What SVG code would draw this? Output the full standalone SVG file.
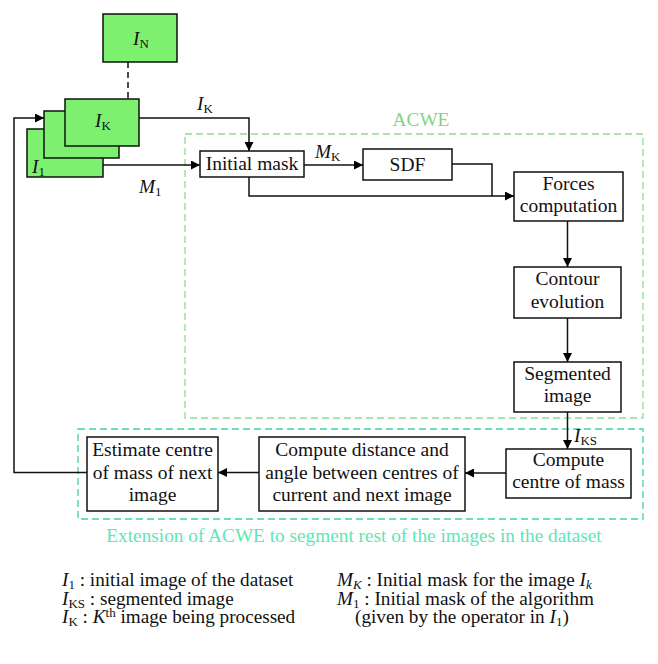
<svg xmlns="http://www.w3.org/2000/svg" width="658" height="664" viewBox="0 0 658 664">
<defs>
<marker id="arr" viewBox="0 0 10 10" markerWidth="9" markerHeight="9" refX="10" refY="5" orient="auto" markerUnits="userSpaceOnUse">
<path d="M0,0 L10,5 L0,10 z" fill="#000"/>
</marker>
<style>
text{font-family:"Liberation Serif","Times New Roman",serif;fill:#111;}
.bx{fill:#fff;stroke:#111;stroke-width:1.5;}
.gr{fill:#7ef070;stroke:#111;stroke-width:1.5;}
.t{font-size:19.5px;text-anchor:middle;}
.lb{font-size:19.3px;}
.lg{font-size:19.2px;}
.it{font-style:italic;}
.sub{font-size:13px;}
.ln{fill:none;stroke:#111;stroke-width:1.5;}
.ar{marker-end:url(#arr);}
</style>
</defs>
<rect width="658" height="664" fill="#fff"/>

<g id="acwe-region">
<rect x="185" y="134" width="458" height="284" fill="none" stroke="#8ede8e" stroke-width="1.3" stroke-dasharray="7 4"/>
<text x="421" y="126" class="lb" text-anchor="middle" style="fill:#7fd67f">ACWE</text>
</g>
<g id="extension-region">
<rect x="78" y="429" width="565" height="90" fill="none" stroke="#3fd49c" stroke-width="1.3" stroke-dasharray="7 4"/>
<text x="354" y="542" class="lb" text-anchor="middle" style="fill:#5de6b5">Extension of ACWE to segment rest of the images in the dataset</text>
</g>

<g id="connectors">
<path class="ln" d="M128,62 V99" stroke-dasharray="6 4"/>
<path class="ln ar" d="M139,118 H249 V151"/>
<path class="ln ar" d="M103,165 H200"/>
<path class="ln ar" d="M304,165 H363"/>
<path class="ln" d="M452,164 H492 V196"/>
<path class="ln ar" d="M249,177 V196 H514"/>
<path class="ln ar" d="M567.5,221 V267"/>
<path class="ln ar" d="M567.5,318 V362"/>
<path class="ln ar" d="M567.5,412 V449"/>
<path class="ln ar" d="M506,473 H465"/>
<path class="ln ar" d="M259,472.5 H218"/>
<path class="ln ar" d="M87,472.5 H14 V118 H44"/>
<text class="lb" x="197" y="110"><tspan class="it">I</tspan><tspan class="sub" dy="3">K</tspan></text>
<text class="lb" x="139" y="193"><tspan class="it">M</tspan><tspan class="sub" dy="3">1</tspan></text>
<text class="lb" x="315" y="158"><tspan class="it">M</tspan><tspan class="sub" dy="3">K</tspan></text>
<text class="lb" x="574" y="442"><tspan class="it">I</tspan><tspan class="sub" dy="3">KS</tspan></text>
</g>

<g id="image-N">
<rect class="gr" x="103" y="14" width="74" height="48"/>
<text class="lb" x="133" y="45"><tspan class="it">I</tspan><tspan class="sub" dy="3">N</tspan></text>
</g>
<g id="image-1">
<rect class="gr" x="27" y="129" width="76" height="48"/>
<text class="lb" x="32" y="173"><tspan class="it">I</tspan><tspan class="sub" dy="3">1</tspan></text>
</g>
<g id="image-mid">
<rect class="gr" x="44" y="111" width="75" height="47"/>
</g>
<g id="image-K">
<rect class="gr" x="65" y="99" width="74" height="47"/>
<text class="lb" x="95" y="127"><tspan class="it">I</tspan><tspan class="sub" dy="3">K</tspan></text>
</g>

<g id="initial-mask">
<rect class="bx" x="200" y="151" width="104" height="26"/>
<text class="t" x="252" y="169.5">Initial mask</text>
</g>
<g id="sdf">
<rect class="bx" x="363" y="149" width="89" height="31"/>
<text class="t" x="407.5" y="170.5">SDF</text>
</g>
<g id="forces">
<rect class="bx" x="514" y="172" width="109" height="49"/>
<text class="t" x="568.5" y="189.5">Forces</text>
<text class="t" x="568.5" y="212">computation</text>
</g>
<g id="contour">
<rect class="bx" x="514" y="267" width="107" height="51"/>
<text class="t" x="567.5" y="285">Contour</text>
<text class="t" x="567.5" y="307.5">evolution</text>
</g>
<g id="segmented">
<rect class="bx" x="514" y="362" width="107" height="50"/>
<text class="t" x="567.5" y="379.5">Segmented</text>
<text class="t" x="567.5" y="402">image</text>
</g>
<g id="compute-centre">
<rect class="bx" x="506" y="449" width="125" height="49"/>
<text class="t" x="568.5" y="465.5">Compute</text>
<text class="t" x="568.5" y="488">centre of mass</text>
</g>
<g id="compute-distance">
<rect class="bx" x="259" y="437" width="206" height="74"/>
<text class="t" x="362" y="456">Compute distance and</text>
<text class="t" x="362" y="478.5">angle between centres of</text>
<text class="t" x="362" y="501">current and next image</text>
</g>
<g id="estimate">
<rect class="bx" x="87" y="437" width="131" height="74"/>
<text class="t" x="152.5" y="456">Estimate centre</text>
<text class="t" x="152.5" y="478.5">of mass of next</text>
<text class="t" x="152.5" y="501">image</text>
</g>

<g id="legend">
<text class="lg" x="62" y="586"><tspan class="it">I</tspan><tspan class="sub" dy="3">1</tspan><tspan dy="-3"> : initial image of the dataset</tspan></text>
<text class="lg" x="62" y="604.5"><tspan class="it">I</tspan><tspan class="sub" dy="3">KS</tspan><tspan dy="-3"> : segmented image</tspan></text>
<text class="lg" x="62" y="623"><tspan class="it">I</tspan><tspan class="sub" dy="3">K</tspan><tspan dy="-3"> : </tspan><tspan class="it">K</tspan><tspan class="sub" dy="-6">th</tspan><tspan dy="6"> image being processed</tspan></text>
<text class="lg" x="337" y="586"><tspan class="it">M</tspan><tspan class="sub it" dy="3">K</tspan><tspan dy="-3"> : Initial mask for the image </tspan><tspan class="it">I</tspan><tspan class="sub it" dy="3">k</tspan></text>
<text class="lg" x="337" y="604.5"><tspan class="it">M</tspan><tspan class="sub" dy="3">1</tspan><tspan dy="-3"> : Initial mask of the algorithm</tspan></text>
<text class="lg" x="355" y="623">(given by the operator in <tspan class="it">I</tspan><tspan class="sub" dy="3">1</tspan><tspan dy="-3">)</tspan></text>
</g>
</svg>
